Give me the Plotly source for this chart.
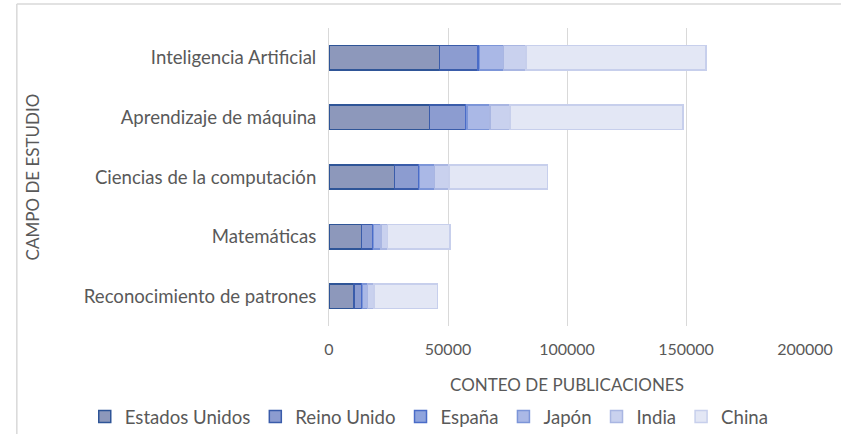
import plotly.graph_objects as go

campos = ["Inteligencia Artificial", "Aprendizaje de máquina", "Ciencias de la computación",
          "Matemáticas", "Reconocimiento de patrones"]
paises = ["Estados Unidos", "Reino Unido", "España", "Japón", "India", "China"]

estados_unidos = [46400, 42300, 27600, 13600, 10400]
reino_unido = [16200, 15100, 10100, 4700, 3400]
espana = [700, 600, 400, 300, 200]
japon = [10100, 9600, 6300, 3200, 2200]
india = [9300, 8500, 6000, 2700, 2700]
china = [75700, 72600, 41500, 26300, 26600]

x_ticks = [0, 50000, 100000, 150000, 200000]

series = [estados_unidos, reino_unido, espana, japon, india, china]
fills = ["#8D98BB", "#8C9CD0", "#8FA4DD", "#AAB8E6", "#C9D1EE", "#E3E7F5"]
borders = ["#2F5597", "#3A5CAA", "#4A6CC8", "#7C95D8", "#A9B6E2", "#C7CFEC"]

fig = go.Figure()
for name, vals, fc, bc in zip(paises, series, fills, borders):
    fig.add_trace(go.Bar(
        y=campos, x=vals, name=name, orientation="h",
        marker=dict(color=fc, line=dict(color=bc, width=1.5)),
    ))

W, H = 841, 434
L, R, T, B = 328.5, 36, 28, 108
pw = W - L - R
ph = H - T - B

def px_x(p):
    return (p - L) / pw

def px_y(p):
    return (H - B - p) / ph

FONT = "Lato"
GREY = "#595959"

fig.update_layout(
    width=W, height=H,
    margin=dict(l=L, r=R, t=T, b=B, autoexpand=False),
    barmode="stack", bargap=0.59,
    plot_bgcolor="white", paper_bgcolor="white",
    font=dict(family=FONT, size=16, color=GREY),
    xaxis=dict(range=[0, 200000], tickvals=x_ticks, ticktext=[str(v) for v in x_ticks],
               showgrid=True, gridcolor="#D9D9D9", gridwidth=1, zeroline=False,
               showline=False, ticks="", ticklabelstandoff=12,
               tickfont=dict(size=16, color=GREY),
               title=dict(text="CONTEO DE PUBLICACIONES", font=dict(size=17, color=GREY),
                          standoff=22)),
    yaxis=dict(categoryorder="array", categoryarray=campos, autorange="reversed",
               showgrid=False, zeroline=False, showline=True, linecolor="#D9D9D9", linewidth=1,
               ticks="", ticklabelstandoff=8, tickfont=dict(size=18.6, color=GREY),
               title=dict(text="CAMPO DE ESTUDIO", font=dict(size=17, color=GREY),
                          standoff=39)),
    legend=dict(orientation="h", x=px_x(84), xanchor="left", y=px_y(417), yanchor="middle",
                font=dict(size=18.6, color=GREY), traceorder="normal",
                itemwidth=30, tracegroupgap=0),
    showlegend=True,
)

fig.add_shape(type="line", xref="paper", yref="paper",
              x0=px_x(16), x1=px_x(16), y0=px_y(4), y1=px_y(434),
              line=dict(color="#D9D9D9", width=1.5))
fig.add_shape(type="line", xref="paper", yref="paper",
              x0=px_x(16), x1=px_x(841), y0=px_y(4), y1=px_y(4),
              line=dict(color="#D9D9D9", width=1.5))

fig.write_html("out.html", config={"displayModeBar": False},
               post_script="document.body.style.margin='0';document.body.style.overflow='hidden';")
